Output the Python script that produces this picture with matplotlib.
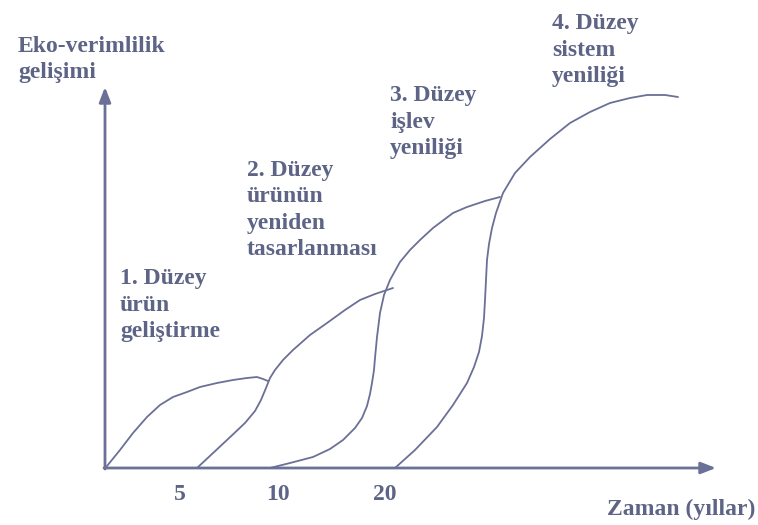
import matplotlib.pyplot as plt

# koordinatlar: orijine göre (sağa x, yukarı y)
egri1_x = [0, 2, 15, 28, 42, 55, 68, 82, 95, 112, 128, 142, 152, 158, 163]
egri1_y = [0, 2, 18, 35, 51, 63, 71, 76, 81, 85, 88, 90, 91, 89, 87]

egri2_x = [92, 107, 122, 140, 150, 156, 161, 165, 170, 178, 188, 205, 222, 240, 255, 270, 282, 288]
egri2_y = [0, 14, 28, 45, 57, 68, 80, 90, 98, 108, 118, 133, 145, 158, 168, 174, 178, 180]

egri3_x = [165, 185, 208, 225, 238, 250, 257, 262, 265, 267, 269, 270, 272, 275, 279, 285,
           295, 305, 315, 328, 348, 362, 380, 395]
egri3_y = [0, 5, 11, 19, 28, 40, 50, 62, 74, 85, 98, 110, 131, 155, 173, 188,
           206, 218, 228, 240, 255, 261, 267, 271]

egri4_x = [290, 310, 332, 348, 362, 369, 374, 377, 379, 380, 381, 382, 384, 387, 391, 398, 410,
           425, 445, 465, 485, 505, 525, 542, 560, 573]
egri4_y = [0, 18, 41, 63, 85, 101, 116, 132, 150, 168, 188, 208, 224, 240, 255, 275, 295,
           311, 329, 345, 356, 365, 370, 373, 373, 371]

etiketler = ["1. Düzey\nürün\ngeliştirme",
             "2. Düzey\nürünün\nyeniden\ntasarlanması",
             "3. Düzey\nişlev\nyeniliği",
             "4. Düzey\nsistem\nyeniliği"]
etiket_x = [15, 142, 285, 447]
etiket_y = [131, 213, 314, 386]   # son satırın taban çizgisi

tik_konum = [75, 173, 280]
tik_etiket = ["5", "10", "20"]

renk = "#5d6486"
yazi = dict(family="Liberation Serif", weight="bold", color=renk, fontsize=17)

fig = plt.figure(figsize=(7.58, 5.25), dpi=100)
ax = fig.add_axes([0, 0, 1, 1])
ax.set_xlim(-105, 653)
ax.set_ylim(-57, 468)
ax.axis("off")

for xs, ys in [(egri1_x, egri1_y), (egri2_x, egri2_y), (egri3_x, egri3_y), (egri4_x, egri4_y)]:
    ax.plot(xs, ys, color="#6a7096", lw=1.3, solid_capstyle="round", solid_joinstyle="round")

# eksenler (oklar)
ok = dict(arrowstyle="-|>,head_length=0.9,head_width=0.35", color="#6a7096", lw=2,
          shrinkA=0, shrinkB=0)
ax.annotate("", xy=(0, 381), xytext=(0, -1), arrowprops=ok)
ax.annotate("", xy=(611, 0), xytext=(-1, 0), arrowprops=ok)

for x, t in zip(tik_konum, tik_etiket):
    ax.text(x, -32, t, ha="center", va="baseline", **yazi)

ax.text(650, -47, "Zaman (yıllar)", ha="right", va="baseline", **yazi)
ax.text(-87, 390, "Eko-verimlilik\ngelişimi", ha="left", va="baseline", linespacing=1.3, **yazi)

for t, x, y in zip(etiketler, etiket_x, etiket_y):
    ax.text(x, y, t, ha="left", va="baseline", linespacing=1.33, **yazi)

fig.savefig("out.png", dpi=100)
